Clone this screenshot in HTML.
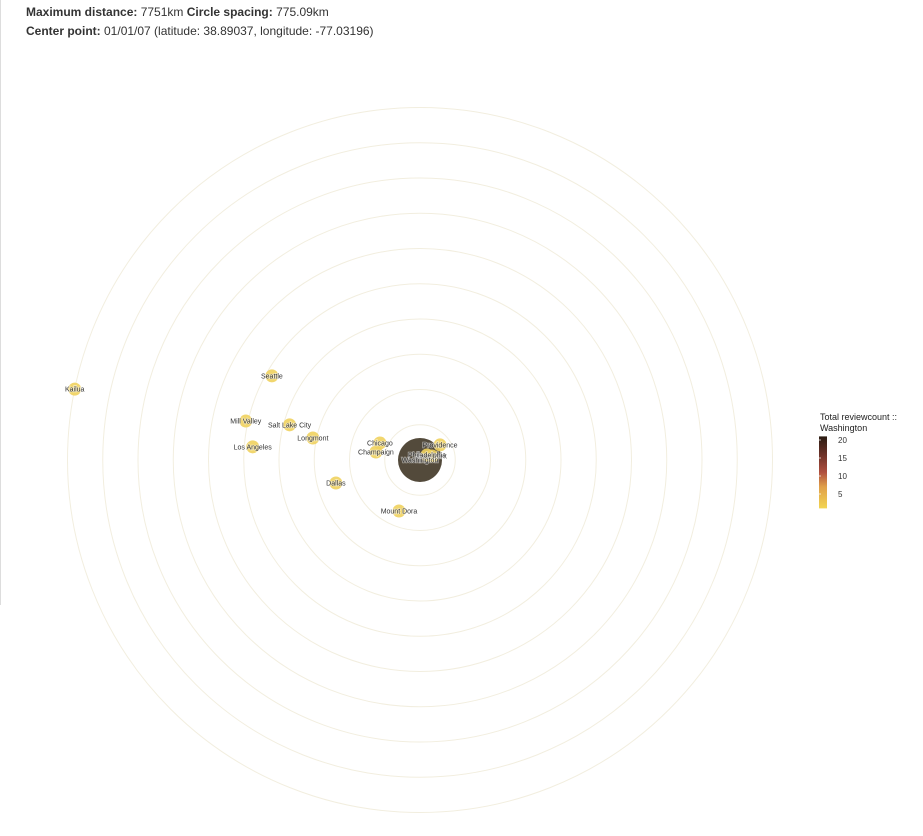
<!DOCTYPE html>
<html><head><meta charset="utf-8"><style>
body{margin:0;background:#fff;width:923px;height:836px;overflow:hidden;font-family:"Liberation Sans",Arial,sans-serif}
#hdr{position:absolute;left:26px;top:3px;font-size:12px;color:#333;line-height:19px}
#vline{position:absolute;left:0;top:0;width:1px;height:605px;background:#ddd}
svg{position:absolute;left:0;top:0}
</style></head><body>
<div id="vline"></div>
<div id="hdr">
<div><b>Maximum distance:</b> 7751km <b>Circle spacing:</b> 775.09km</div>
<div><b>Center point:</b> 01/01/07 (latitude: 38.89037, longitude: -77.03196)</div>
</div>
<svg id="chart" width="923" height="836">
<defs><linearGradient id="lg" x1="0" y1="1" x2="0" y2="0">
<stop offset="0" stop-color="#f2d552"/><stop offset="0.3" stop-color="#e0a04a"/><stop offset="0.5" stop-color="#b0503f"/><stop offset="0.75" stop-color="#6b3128"/><stop offset="1" stop-color="#2a1c12"/></linearGradient></defs>
</svg>
<script>
const cities=["Kailua","Seattle","Mill Valley","Salt Lake City","Longmont","Los Angeles","Chicago","Champaign","Dallas","Mount Dora","Providence","New York","Philadelphia","Washington"];
const distanceKm=[7751,3745,3925,2970,2405,3690,958,985,1917,1213,551,280,190,0];
const bearingDeg=[281.6,299.6,282.6,285.1,281.6,274.5,293,280.3,254.7,202.4,53,71.6,54.5,0];
const reviewCount=[1,1,1,1,1,1,1,1,1,1,1,1,1,20];
const legendTicks=[5,10,15,20];
const ringCount=10, spacingKm=775.09;
const NS="http://www.w3.org/2000/svg";
const svg=document.getElementById('chart');
const cx=420,cy=460,pxPerKm=35.25/775.09;
function rScale(km){return km*pxPerKm;}
function px(d,b){return cx+rScale(d)*Math.sin(b*Math.PI/180);}
function py(d,b){return cy-rScale(d)*Math.cos(b*Math.PI/180);}
function mk(t,a){const e=document.createElementNS(NS,t);for(const k in a)e.setAttribute(k,a[k]);svg.appendChild(e);return e;}
for(let i=1;i<=ringCount;i++){
 const c=mk('circle',{cx:cx,cy:cy,r:rScale(i*spacingKm),fill:'none',stroke:'#f2eedf','stroke-width':1});
 
 
}
function color(v){return v>=10?'#4a4030':'#f0d25e';}
const order=cities.map((c,i)=>i).sort((a,b)=>reviewCount[b]-reviewCount[a]);
order.forEach(i=>{
 const x=px(distanceKm[i],bearingDeg[i]),y=py(distanceKm[i],bearingDeg[i]);
 const r=reviewCount[i]>=10?22:6.5;
 const c=mk('circle',{cx:x,cy:y,r:r,fill:color(reviewCount[i]),'fill-opacity':reviewCount[i]>=10?0.95:0.9});
 
 
});
cities.forEach((n,i)=>{
 const x=px(distanceKm[i],bearingDeg[i]),y=py(distanceKm[i],bearingDeg[i]);
 const t=mk('text',{x:x,y:y+2.5,'text-anchor':'middle','font-size':7,fill:'#333',stroke:'#fff','stroke-width':1.5,'paint-order':'stroke','stroke-opacity':0.5});
 t.textContent=n;
 
 
});
const lt1=mk('text',{x:820,y:420,'font-size':9,fill:'#222'});lt1.textContent='Total reviewcount ::';


const lt2=mk('text',{x:820,y:431,'font-size':9,fill:'#222'});lt2.textContent='Washington';


function ly(v){return 512-3.6*v;}
const bar=mk('rect',{x:819,y:ly(21),width:8,height:ly(1)-ly(21),fill:'url(#lg)'});


legendTicks.forEach(v=>{
 const l=mk('line',{x1:819,x2:821,y1:ly(v),y2:ly(v),stroke:'#fff','stroke-width':0.7});
 
 
 const t=mk('text',{x:838,y:ly(v)+3,'font-size':8,fill:'#333'});t.textContent=v;
 
 
});
</script>
</body></html>
